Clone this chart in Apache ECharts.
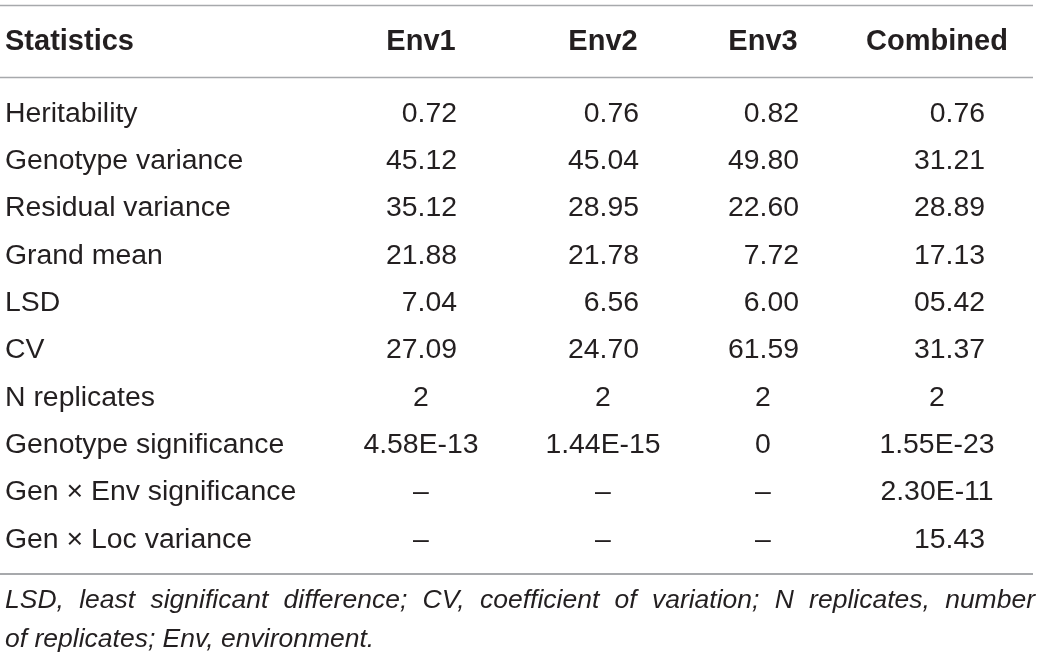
<!DOCTYPE html>
<html><head><meta charset="utf-8">
<script src="https://cdn.jsdelivr.net/npm/echarts@6/dist/echarts.min.js"></script>
<style>html,body{margin:0;padding:0;background:#fff}#c{width:1040px;height:660px}</style>
</head><body><div id="c"></div>
<script>
// ---- data ----
const headerLabel = 'Statistics';
const columns = ['Env1', 'Env2', 'Env3', 'Combined'];
const rowNames = ['Heritability', 'Genotype variance', 'Residual variance', 'Grand mean', 'LSD', 'CV',
  'N replicates', 'Genotype significance', 'Gen × Env significance', 'Gen × Loc variance'];
const env1 = ['0.72', '45.12', '35.12', '21.88', '7.04', '27.09', '2', '4.58E-13', '–', '–'];
const env2 = ['0.76', '45.04', '28.95', '21.78', '6.56', '24.70', '2', '1.44E-15', '–', '–'];
const env3 = ['0.82', '49.80', '22.60', '7.72', '6.00', '61.59', '2', '0', '–', '–'];
const combined = ['0.76', '31.21', '28.89', '17.13', '05.42', '31.37', '2', '1.55E-23', '2.30E-11', '15.43'];
const footnoteLines = [
  'LSD, least significant difference; CV, coefficient of variation; N replicates, number',
  'of replicates; Env, environment.'
];

// ---- layout (kept separate from data) ----
const colCenter = [421, 603, 763, 937];
const colRight = [457, 639, 799, 985];
const FONT = '"Liberation Sans", Arial, Helvetica, sans-serif';
const TXT = '#231f20';
const RULE = '#a7a9ac';
const bodySize = 28.4;
const headSize = 29;

const colValues = [env1, env2, env3, combined];
const rightData = [], centerData = [];
colValues.forEach((vals, ci) => {
  vals.forEach((v, ri) => {
    if (/^\d+\.\d+$/.test(v)) rightData.push([colRight[ci], rowNames[ri], v]);
    else centerData.push([colCenter[ci], rowNames[ri], v]);
  });
});
const headerData = columns.map((c, i) => [colCenter[i], headerLabel, c]);

// footnote justified layout
const fnSize = 26.5;
const fnFont = 'italic ' + fnSize + 'px ' + FONT;
const ctx = document.createElement('canvas').getContext('2d');
ctx.font = fnFont;
const fnLeft = 5, fnRight = 1035, fnY = [602, 641];
const fnGraphics = [];
footnoteLines.forEach((line, li) => {
  const words = line.split(' ');
  const last = li === footnoteLines.length - 1;
  const widths = words.map(w => ctx.measureText(w).width);
  const total = widths.reduce((a, b) => a + b, 0);
  const gap = last ? ctx.measureText(' ').width : (fnRight - fnLeft - total) / (words.length - 1);
  let x = fnLeft;
  words.forEach((w, wi) => {
    fnGraphics.push({ type: 'text', left: x, top: fnY[li] - fnSize / 2 - 2,
      style: { text: w, font: fnFont, fill: TXT } });
    x += widths[wi] + gap;
  });
});

const chart = echarts.init(document.getElementById('c'), null, { renderer: 'canvas' });
const hidden = { axisLine: { show: false }, axisTick: { show: false }, splitLine: { show: false } };
const cellLabel = (pos, size, weight) => ({
  show: true, position: pos, distance: 0, formatter: p => p.data[2],
  fontFamily: FONT, fontSize: size, fontWeight: weight, color: TXT, opacity: 1
});
chart.setOption({
  animation: false,
  backgroundColor: '#fff',
  grid: [
    { left: 0, right: 0, top: 90.33, height: 473.33 },
    { left: 0, right: 0, top: 6, height: 71 }
  ],
  xAxis: [
    Object.assign({ type: 'value', min: 0, max: 1040, gridIndex: 0, axisLabel: { show: false } }, hidden),
    Object.assign({ type: 'value', min: 0, max: 1040, gridIndex: 1, axisLabel: { show: false } }, hidden)
  ],
  yAxis: [
    Object.assign({ type: 'category', data: rowNames, inverse: true, gridIndex: 0,
      axisLabel: { inside: true, margin: 5, fontFamily: FONT, fontSize: bodySize, color: TXT, interval: 0 } }, hidden),
    Object.assign({ type: 'category', data: [headerLabel], gridIndex: 1,
      axisLabel: { inside: true, margin: 5, fontFamily: FONT, fontSize: headSize, fontWeight: 'bold', color: TXT } }, hidden)
  ],
  series: [
    { type: 'scatter', xAxisIndex: 0, yAxisIndex: 0, symbolSize: 0, data: rightData, silent: true,
      itemStyle: { opacity: 1 }, label: cellLabel('left', bodySize, 'normal') },
    { type: 'scatter', xAxisIndex: 0, yAxisIndex: 0, symbolSize: 0, data: centerData, silent: true,
      itemStyle: { opacity: 1 }, label: cellLabel('inside', bodySize, 'normal') },
    { type: 'scatter', xAxisIndex: 1, yAxisIndex: 1, symbolSize: 0, data: headerData, silent: true,
      itemStyle: { opacity: 1 }, label: cellLabel('inside', headSize, 'bold') }
  ],
  graphic: [
    { type: 'line', shape: { x1: 0, y1: 5.5, x2: 1033, y2: 5.5 }, style: { stroke: RULE, lineWidth: 1.5 } },
    { type: 'line', shape: { x1: 0, y1: 77.5, x2: 1033, y2: 77.5 }, style: { stroke: RULE, lineWidth: 1.5 } },
    { type: 'line', shape: { x1: 0, y1: 574, x2: 1033, y2: 574 }, style: { stroke: RULE, lineWidth: 2 } }
  ].concat(fnGraphics)
});
</script></body></html>
